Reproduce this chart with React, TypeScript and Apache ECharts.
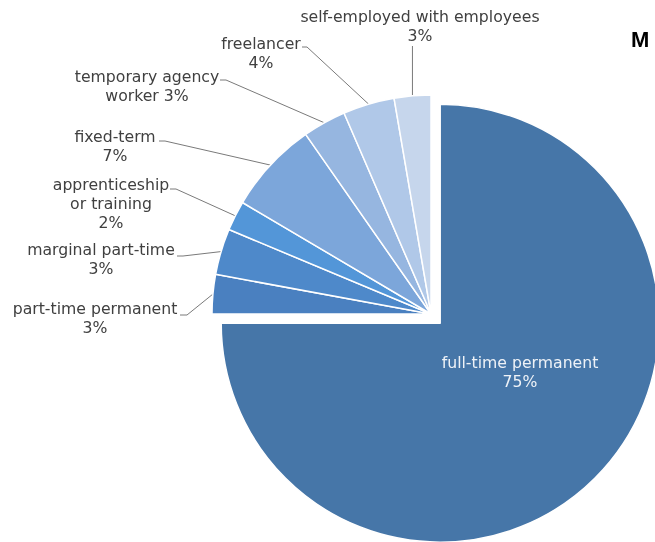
import React, { useEffect, useRef } from "react";
import * as echarts from "echarts";

const categories = [
  "full-time permanent",
  "part-time permanent",
  "marginal part-time",
  "apprenticeship or training",
  "fixed-term",
  "temporary agency worker",
  "freelancer",
  "self-employed with employees",
];
const shares = [75.0, 2.9, 3.4, 2.2, 6.8, 3.2, 3.8, 2.7];
const labelNames = [
  "full-time permanent",
  "part-time permanent",
  "marginal part-time",
  "apprenticeship\nor training",
  "fixed-term",
  "temporary agency\nworker",
  "freelancer",
  "self-employed with employees",
];
const labelJoins = ["\n", "\n", "\n", "\n", "\n", " ", "\n", "\n"];
const titleText = "M";

const colors = [
  "#4676A8",
  "#4A80C0",
  "#4E89CA",
  "#5396D8",
  "#7CA6DA",
  "#96B6E0",
  "#B0C8E8",
  "#C6D6EC",
];

// label placement (style only): center of text block, and anchor of leader line
const labelPos = [
  { x: 520, y: 372 },
  { x: 95, y: 318, ex: 180, ey: 315, bx: 187 },
  { x: 101, y: 259, ex: 177, ey: 256, bx: 183 },
  { x: 111, y: 203, ex: 170, ey: 189, bx: 176 },
  { x: 115, y: 146, ex: 159, ey: 141, bx: 165 },
  { x: 147, y: 86, ex: 220, ey: 80, bx: 226 },
  { x: 261, y: 53, ex: 302, ey: 47, bx: 307 },
  { x: 420, y: 26, vertical: true, ey: 46 },
];

const labelText = (i: number) =>
  labelNames[i] + labelJoins[i] + Math.round(shares[i]) + "%";

export default function App() {
  const ref = useRef<HTMLDivElement>(null);
  useEffect(() => {
    const chart = echarts.init(ref.current!, null, { renderer: "svg" });
    chart.setOption({
      animation: false,
      title: {
        text: titleText,
        left: 631,
        top: 28,
        padding: 0,
        textStyle: {
          fontFamily: "Liberation Sans",
          fontWeight: "bold",
          fontSize: 22,
          color: "#000",
        },
      },
      graphic: [
        {
          type: "text",
          x: labelPos[0].x,
          y: labelPos[0].y,
          z: 100,
          style: {
            text: labelText(0),
            fill: "#EEF2F7",
            fontFamily: "DejaVu Sans",
            fontSize: 15.7,
            lineHeight: 19,
            align: "center",
            verticalAlign: "middle",
          },
        },
      ],
      series: [
        {
          type: "pie",
          center: [431, 314],
          radius: 219,
          startAngle: 90,
          clockwise: true,
          selectedMode: "multiple",
          selectedOffset: 13,
          avoidLabelOverlap: false,
          emphasis: { disabled: true },
          itemStyle: { borderColor: "#fff", borderWidth: 1.5 },
          label: {
            show: true,
            position: "outside",
            fontFamily: "DejaVu Sans",
            fontSize: 15.7,
            lineHeight: 19,
            color: "#404040",
            align: "center",
            formatter: (p: any) => labelText(p.dataIndex),
          },
          labelLine: {
            show: true,
            length: 10,
            length2: 10,
            lineStyle: { color: "#7a7a7a", width: 1 },
          },
          labelLayout: (params: any) => {
            const i = params.dataIndex;
            const pos: any = labelPos[i];
            const out: any = {
              x: pos.x,
              y: pos.y,
              align: "center",
              verticalAlign: "middle",
            };
            if (i > 0 && params.labelLinePoints) {
              const p0 = params.labelLinePoints[0];
              if (pos.vertical) {
                out.labelLinePoints = [
                  [p0[0], p0[1]],
                  [p0[0], pos.ey],
                  [p0[0], pos.ey],
                ];
              } else {
                out.labelLinePoints = [
                  [p0[0], p0[1]],
                  [pos.bx, pos.ey],
                  [pos.ex, pos.ey],
                ];
              }
            }
            return out;
          },
          data: categories.map((name, i) => ({
            name,
            value: shares[i],
            selected: i === 0,
            itemStyle: { color: colors[i] },
            label: i === 0 ? { show: false } : undefined,
            labelLine: i === 0 ? { show: false } : undefined,
          })),
        },
      ],
    });
    return () => chart.dispose();
  }, []);
  return (
    <div
      ref={ref}
      style={{ position: "fixed", left: 0, top: 0, width: 655, height: 542 }}
    />
  );
}
